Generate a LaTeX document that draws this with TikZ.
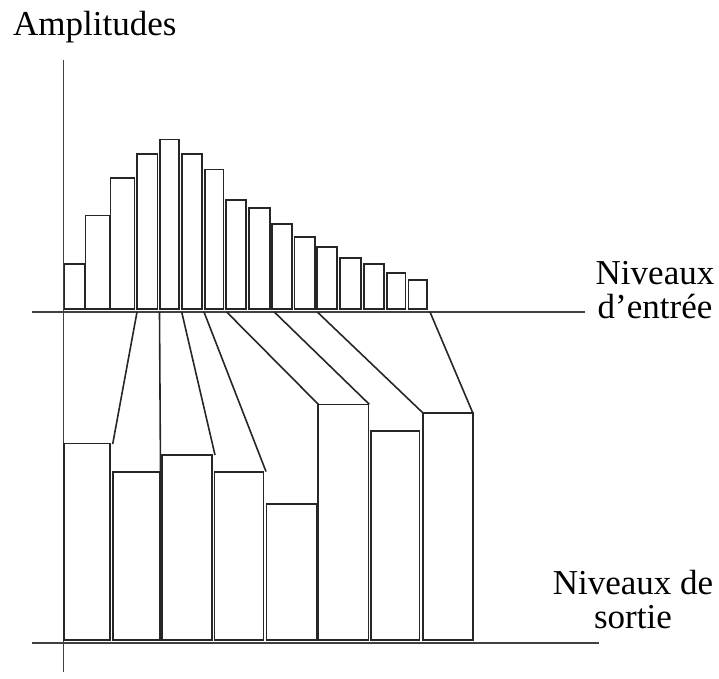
\documentclass[tikz,border=0pt]{standalone}
\usepackage{fontspec}
\setmainfont{Liberation Serif}
\begin{document}
\begin{tikzpicture}[x=1pt,y=-1pt,
  bar/.style={draw=black!85,fill=white,line width=1.6pt},
  axis/.style={draw=black!75,line width=1.6pt},
  link/.style={draw=black!85,line width=1.6pt},
  lbl/.style={inner sep=0pt,font=\fontsize{35}{34}\selectfont,align=center}]
\useasboundingbox (0,0) rectangle (719,678);
% axes
\draw[axis] (63.5,60) -- (63.5,672);
\draw[axis] (32,312) -- (585,312);
\draw[axis] (32,643) -- (599,643);
% input histogram
\foreach \a/\b/\t in {64.3/84.3/264, 85.5/109.3/215.3, 110.5/134.3/178,
  137/157.3/153.7, 160/178.7/139.3, 181.7/201.7/153.7, 204.7/223.3/169.3,
  226/246/199.7, 249/270/208, 272/292/224, 294.3/315/236.7,
  316.7/336.7/246.7, 339.7/361/258, 363.7/384/264, 386.7/405.3/272.7,
  408.3/426.7/280}
  \draw[bar] (\a,309) rectangle (\b,\t);
% output histogram
\foreach \a/\b/\t in {63.7/110/443.3, 112.7/160/472, 161.7/211.7/454.7,
  214.3/263.3/472, 266.3/316.7/503.7, 318/368.3/404.3,
  370.7/419.3/430.7, 422.7/472.7/412.7}
  \draw[bar] (\a,640) rectangle (\b,\t);
% connectors
\draw[link] (137,312) -- (112.7,444);
\draw[link] (159.5,312) -- (160.5,472);
\draw[link] (181.7,312) -- (215,455);
\draw[link] (204,312) -- (266,471.5);
\draw[link] (226.7,312) -- (318.3,404.3);
\draw[link] (274.3,312) -- (369.3,404.3);
\draw[link] (317.3,312) -- (422.7,412.7);
\draw[link] (430,312) -- (472.7,412.7);
% labels
\node[lbl,anchor=base west] (amp) at (13,35) {Amplitudes};
\node[lbl,anchor=base] (in) at (655,318) {Niveaux\\d’entrée};
\node[lbl,anchor=base] (out) at (633,628) {Niveaux de\\sortie};
\end{tikzpicture}
\end{document}
